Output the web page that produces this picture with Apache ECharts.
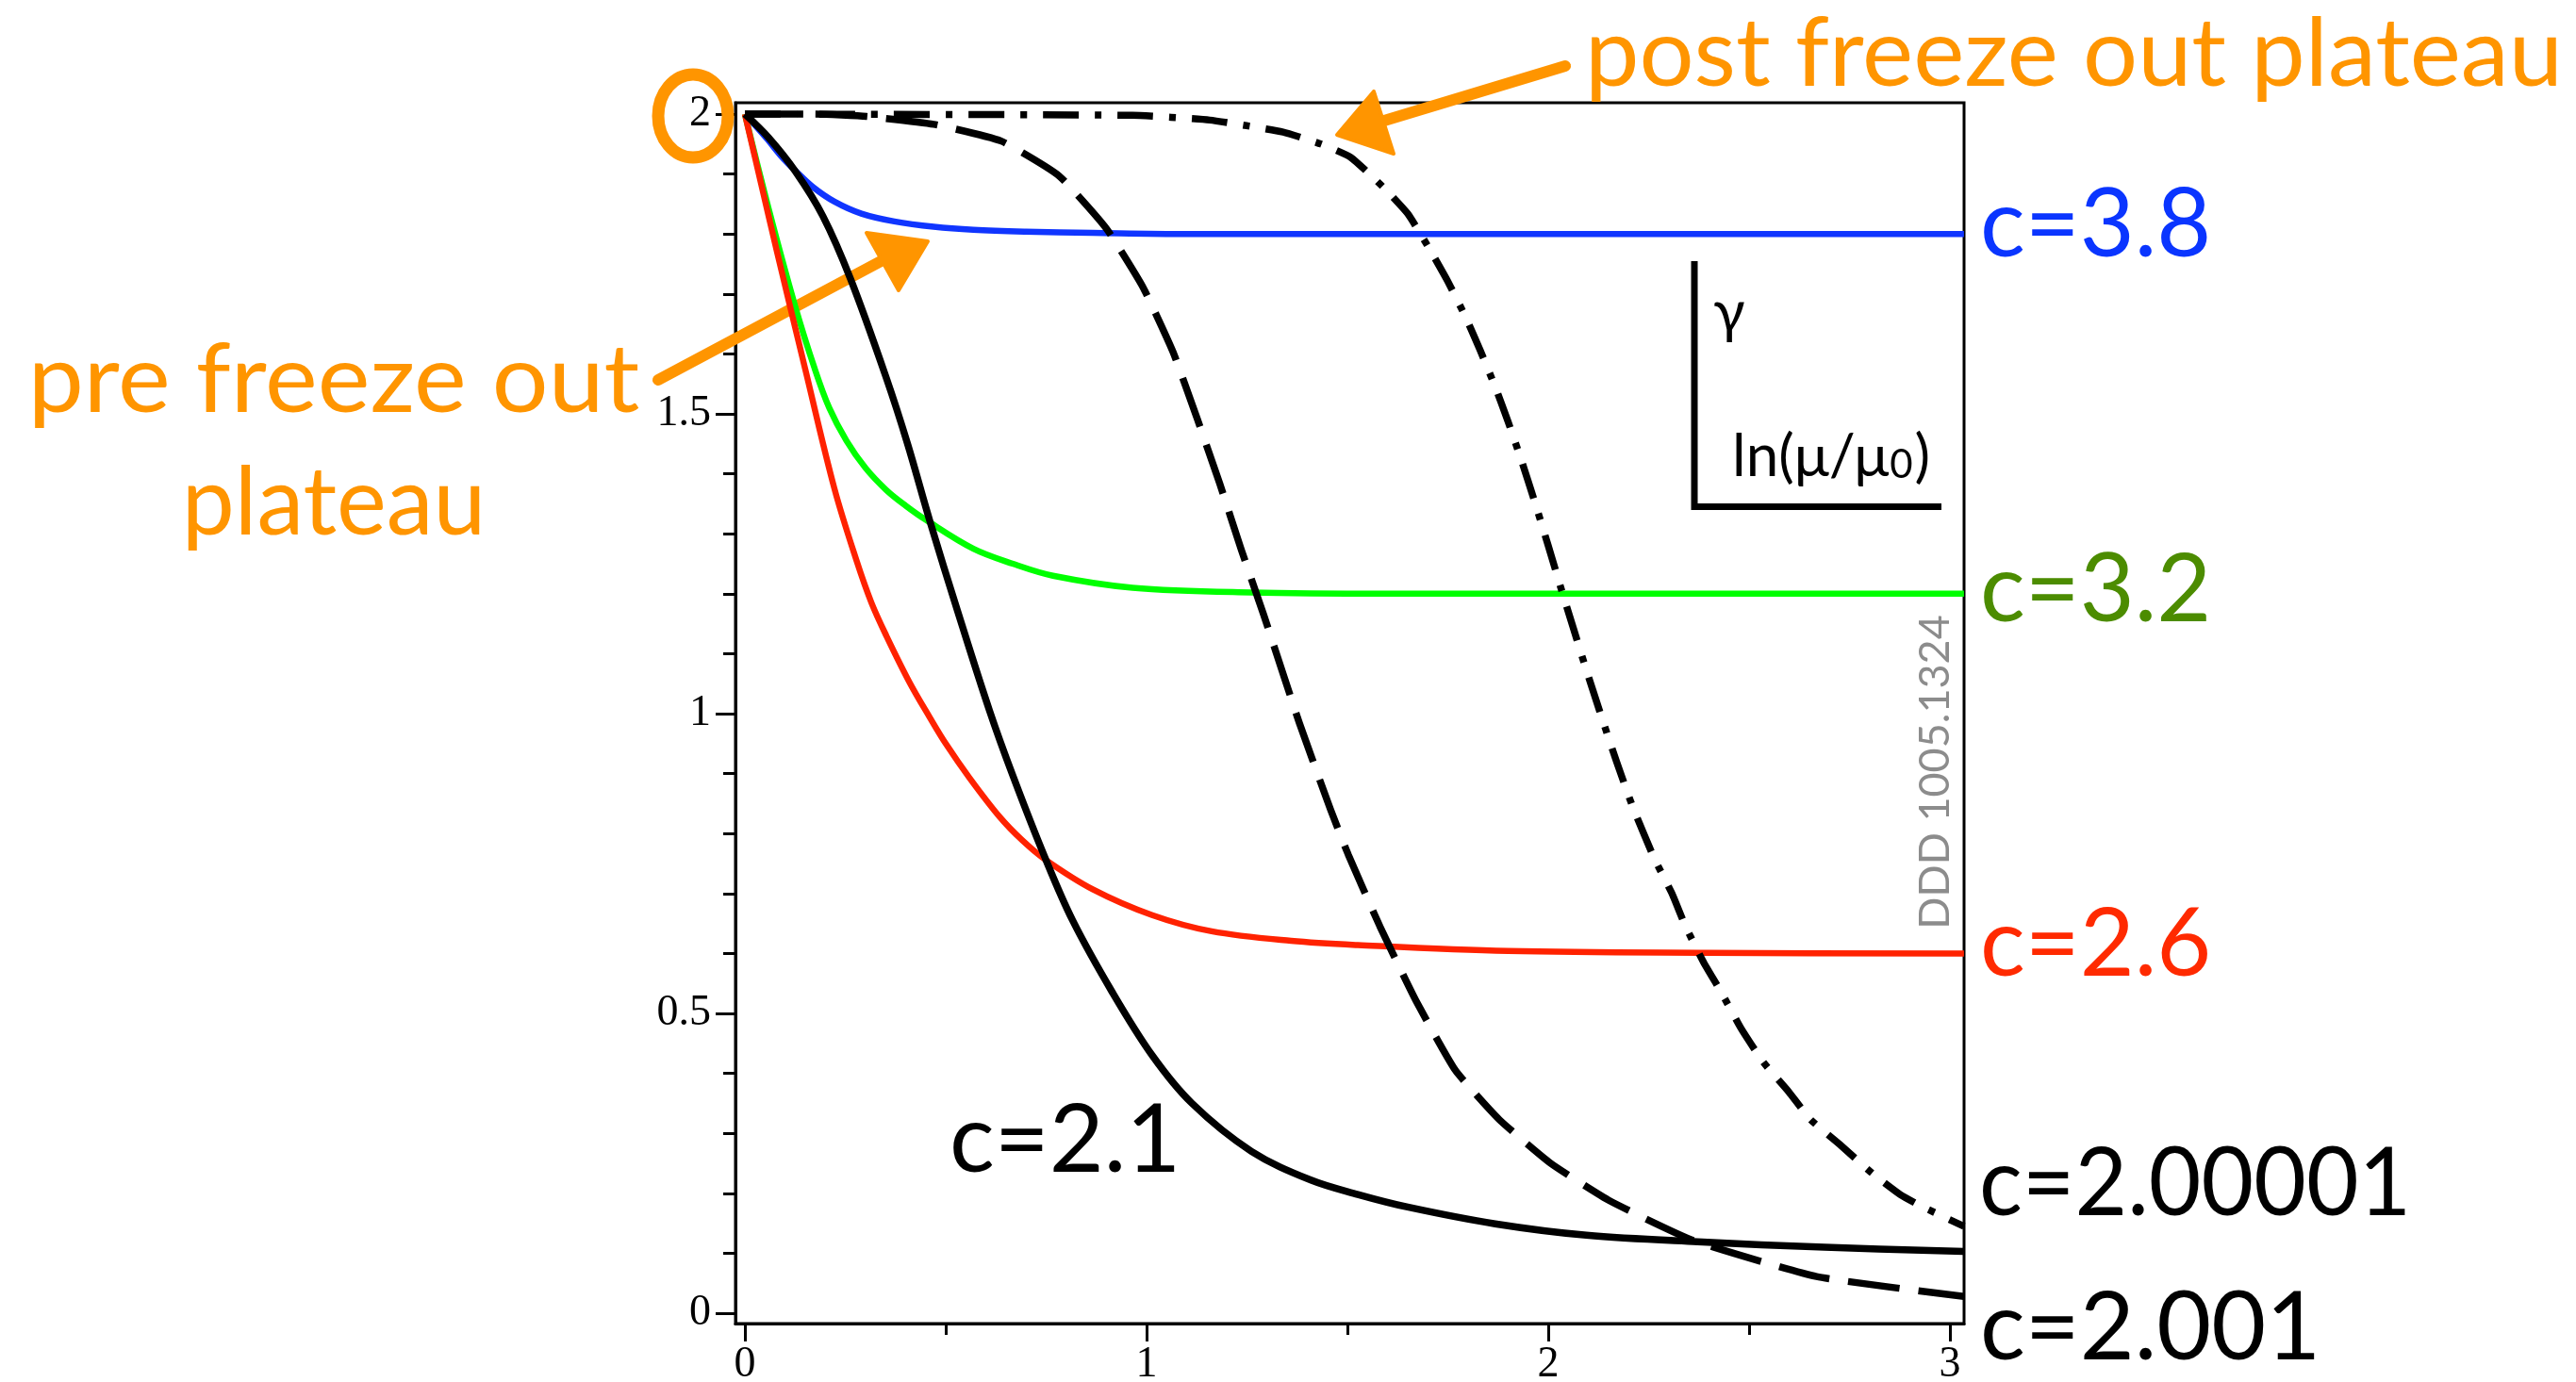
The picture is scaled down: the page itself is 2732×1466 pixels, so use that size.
<!DOCTYPE html>
<html>
<head>
<meta charset="utf-8">
<script src="https://cdn.jsdelivr.net/npm/echarts@6/dist/echarts.min.js"></script>
<style>
  html, body { margin: 0; padding: 0; background: #ffffff; }
  #chart { width: 2732px; height: 1466px; }
</style>
</head>
<body>
<div id="chart"></div>
<script>
// Anomalous dimension gamma against ln(mu/mu0), one curve per value of c.
// Each curve is a list of [ln(mu/mu0), gamma] pairs.
const curveC38 = [[0,2],[0.03,1.978],[0.056,1.958],[0.09,1.93],[0.125,1.906],[0.17,1.878],[0.223,1.854],[0.29,1.834],[0.372,1.821],[0.47,1.812],[0.569,1.807],[0.7,1.804],[0.866,1.802],[1.1,1.8],[1.6,1.8],[2.2,1.8],[3.035,1.8]];
const curveC32 = [[0,2],[0.06,1.84],[0.125,1.68],[0.174,1.575],[0.21,1.51],[0.253,1.455],[0.3,1.41],[0.352,1.373],[0.4,1.347],[0.451,1.323],[0.569,1.275],[0.667,1.25],[0.767,1.23],[0.965,1.21],[1.26,1.202],[1.6,1.2],[2.2,1.2],[3.035,1.2]];
const curveC26 = [[0,2],[0.04,1.885],[0.08,1.77],[0.15,1.575],[0.223,1.375],[0.278,1.255],[0.315,1.185],[0.352,1.13],[0.41,1.052],[0.46,0.994],[0.5,0.95],[0.559,0.893],[0.634,0.828],[0.69,0.789],[0.747,0.757],[0.866,0.707],[1.014,0.664],[1.162,0.637],[1.36,0.621],[1.526,0.614],[1.9,0.604],[2.4,0.601],[3.035,0.6]];
const curveC21 = [[0,2],[0.06,1.96],[0.125,1.905],[0.194,1.83],[0.263,1.725],[0.352,1.56],[0.405,1.45],[0.461,1.32],[0.53,1.17],[0.609,1.005],[0.668,0.895],[0.747,0.76],[0.816,0.655],[0.915,0.535],[1.014,0.43],[1.113,0.35],[1.261,0.27],[1.409,0.222],[1.526,0.198],[1.65,0.177],[1.868,0.149],[2.095,0.13],[2.372,0.119],[2.688,0.11],[3.035,0.103]];
const curveC2001 = [[0,2],[0.174,2.0],[0.303,1.996],[0.47,1.983],[0.638,1.955],[0.782,1.897],[0.9,1.809],[0.992,1.71],[1.066,1.603],[1.126,1.492],[1.182,1.384],[1.236,1.273],[1.291,1.166],[1.343,1.06],[1.38,0.985],[1.458,0.84],[1.502,0.765],[1.581,0.645],[1.67,0.522],[1.769,0.405],[1.878,0.323],[2.006,0.25],[2.154,0.187],[2.362,0.121],[2.668,0.061],[3.035,0.028]];
const curveC200001 = [[0,2],[0.965,1.998],[1.157,1.99],[1.34,1.97],[1.434,1.95],[1.508,1.928],[1.591,1.877],[1.65,1.834],[1.7,1.78],[1.749,1.722],[1.794,1.662],[1.83,1.607],[1.868,1.545],[1.9,1.487],[1.932,1.425],[1.967,1.352],[2.0,1.28],[2.03,1.213],[2.06,1.148],[2.09,1.083],[2.13,1.0],[2.17,0.92],[2.21,0.845],[2.263,0.76],[2.308,0.7],[2.342,0.645],[2.387,0.585],[2.431,0.535],[2.48,0.475],[2.535,0.419],[2.599,0.369],[2.653,0.323],[2.728,0.28],[2.807,0.233],[2.876,0.198],[2.93,0.178],[3.035,0.145]];

// Axis ranges and tick values
const xRange = [-0.0235, 3.0352];
const yRange = [-0.0173, 2.0189];
const xTicksMajor = [0, 1, 2, 3];
const xTicksMinor = [0.5, 1.5, 2.5];
const yTicksMajor = [0, 0.5, 1, 1.5, 2];
const yTicksMinor = [0.1, 0.2, 0.3, 0.4, 0.6, 0.7, 0.8, 0.9, 1.1, 1.2, 1.3, 1.4, 1.6, 1.7, 1.8, 1.9];

// Curve labels
const labelTexts = ['c=3.8', 'c=3.2', 'c=2.6', 'c=2.00001', 'c=2.001', 'c=2.1'];
const noteTexts = ['post freeze out plateau', 'pre freeze out', 'plateau'];
const insetTexts = ['\u03b3', 'ln(\u03bc/\u03bc', '0', ')'];
const sourceText = 'DDD 1005.1324';

const ORANGE = '#ff9500';
const SANS = 'Lato, "Open Sans", sans-serif';
const SERIF = '"Liberation Serif", "Times New Roman", serif';

const chart = echarts.init(document.getElementById('chart'), null, { renderer: 'canvas' });

const axisLineStyle = { color: '#000', width: 3 };
const tickLine = { color: '#000', width: 3 };

function lineSeries(data, color, width, dash, smooth, z) {
  return {
    type: 'line',
    data: data,
    xAxisIndex: 0,
    yAxisIndex: 0,
    showSymbol: false,
    symbol: 'none',
    smooth: smooth,
    silent: true,
    z: z,
    lineStyle: { color: color, width: width, type: dash, cap: 'butt', join: 'round' }
  };
}

// Inset axis-key text widths
const mctx = document.createElement('canvas').getContext('2d');
mctx.font = '62px ' + SANS;
const wLn = mctx.measureText(insetTexts[1]).width;
mctx.font = '42px ' + SANS;
const wSub = mctx.measureText(insetTexts[2]).width;

function txt(x, y, text, font, fill, align, extra) {
  return Object.assign({
    type: 'text', x: x, y: y, z: 20,
    style: { text: text, font: font, fill: fill, textAlign: align, textVerticalAlign: 'middle', align: align, verticalAlign: 'middle' }
  }, extra || {});
}

const option = {
  backgroundColor: '#ffffff',
  animation: false,
  grid: { left: 780, top: 109, width: 1303, height: 1295, show: true, borderColor: '#000', borderWidth: 3, containLabel: false, outerBoundsMode: 'none' },
  xAxis: [
    {
      type: 'value', min: xRange[0], max: xRange[1], position: 'bottom',
      axisLine: { show: true, onZero: false, lineStyle: axisLineStyle },
      axisTick: { show: true, customValues: xTicksMajor, length: 19, lineStyle: tickLine },
      axisLabel: { show: true, customValues: xTicksMajor, margin: 21, fontFamily: SERIF, fontSize: 46, color: '#000' },
      splitLine: { show: false }
    },
    {
      type: 'value', min: xRange[0], max: xRange[1], position: 'bottom',
      axisLine: { show: false, onZero: false },
      axisTick: { show: true, customValues: xTicksMinor, length: 12, lineStyle: tickLine },
      axisLabel: { show: false },
      splitLine: { show: false }
    }
  ],
  yAxis: [
    {
      type: 'value', min: yRange[0], max: yRange[1], position: 'left',
      axisLine: { show: true, onZero: false, lineStyle: axisLineStyle },
      axisTick: { show: true, customValues: yTicksMajor, length: 21, lineStyle: tickLine },
      axisLabel: { show: true, customValues: yTicksMajor, margin: 26, fontFamily: SERIF, fontSize: 46, color: '#000' },
      splitLine: { show: false }
    },
    {
      type: 'value', min: yRange[0], max: yRange[1], position: 'left',
      axisLine: { show: false, onZero: false },
      axisTick: { show: true, customValues: yTicksMinor, length: 13, lineStyle: tickLine },
      axisLabel: { show: false },
      splitLine: { show: false }
    }
  ],
  series: [
    lineSeries(curveC38, '#1035ff', 6.5, 'solid', 0.35, 3),
    lineSeries(curveC32, '#00ff00', 6.5, 'solid', 0.35, 3),
    lineSeries(curveC26, '#ff2200', 6.5, 'solid', 0.35, 4),
    lineSeries(curveC21, '#000000', 7.5, 'solid', 0.35, 5),
    lineSeries(curveC2001, '#000000', 7.5, [55, 20], 0.15, 5),
    lineSeries(curveC200001, '#000000', 7.5, [38, 17, 7, 17], 0.15, 5)
  ],
  graphic: [
    // hand-drawn orange annotations
    { type: 'ellipse', z: 1, shape: { cx: 735, cy: 123, rx: 37, ry: 44 }, style: { fill: 'none', stroke: ORANGE, lineWidth: 13 } },
    { type: 'line', z: 1, shape: { x1: 698, y1: 403, x2: 940, y2: 274 }, style: { stroke: ORANGE, lineWidth: 12, lineCap: 'round' } },
    { type: 'polygon', z: 1, shape: { points: [[919, 247], [984, 256], [953, 308]] }, style: { fill: ORANGE, stroke: ORANGE, lineWidth: 4, lineJoin: 'round' } },
    { type: 'line', z: 1, shape: { x1: 1660, y1: 70, x2: 1468, y2: 128 }, style: { stroke: ORANGE, lineWidth: 12, lineCap: 'round' } },
    { type: 'polygon', z: 1, shape: { points: [[1457, 97], [1418, 143], [1478, 163]] }, style: { fill: ORANGE, stroke: ORANGE, lineWidth: 4, lineJoin: 'round' } },
    txt(1681, 59, noteTexts[0], '100px ' + SANS, ORANGE, 'left', { scaleX: 1.025 }),
    txt(354, 405, noteTexts[1], '100px ' + SANS, ORANGE, 'center', { scaleX: 1.055 }),
    txt(354, 535, noteTexts[2], '100px ' + SANS, ORANGE, 'center'),

    // curve labels
    txt(2100, 240, labelTexts[0], '100px ' + SANS, '#0a35ff', 'left'),
    txt(2100, 627, labelTexts[1], '100px ' + SANS, '#4c8c00', 'left'),
    txt(2100, 1003, labelTexts[2], '100px ' + SANS, '#ff2a00', 'left'),
    txt(2099, 1257, labelTexts[3], '100px ' + SANS, '#000000', 'left', { scaleX: 0.96 }),
    txt(2100, 1410, labelTexts[4], '100px ' + SANS, '#000000', 'left'),
    txt(1007, 1211, labelTexts[5], '100px ' + SANS, '#000000', 'left'),

    // axis key inset
    { type: 'line', z: 20, shape: { x1: 1797, y1: 277, x2: 1797, y2: 541 }, style: { stroke: '#000', lineWidth: 7 } },
    { type: 'line', z: 20, shape: { x1: 1794, y1: 537.5, x2: 2059, y2: 537.5 }, style: { stroke: '#000', lineWidth: 7 } },
    txt(1817, 332, insetTexts[0], '62px ' + SANS, '#000', 'left'),
    txt(1837, 485, insetTexts[1], '62px ' + SANS, '#000', 'left'),
    txt(1837 + wLn + 1, 493, insetTexts[2], '42px ' + SANS, '#000', 'left'),
    txt(1837 + wLn + wSub + 3, 485, insetTexts[3], '62px ' + SANS, '#000', 'left'),

    // source tag
    txt(2052, 819, sourceText, '45px ' + SANS, '#8c8c8c', 'center', { rotation: Math.PI / 2 })
  ]
};

chart.setOption(option);
</script>
</body>
</html>
